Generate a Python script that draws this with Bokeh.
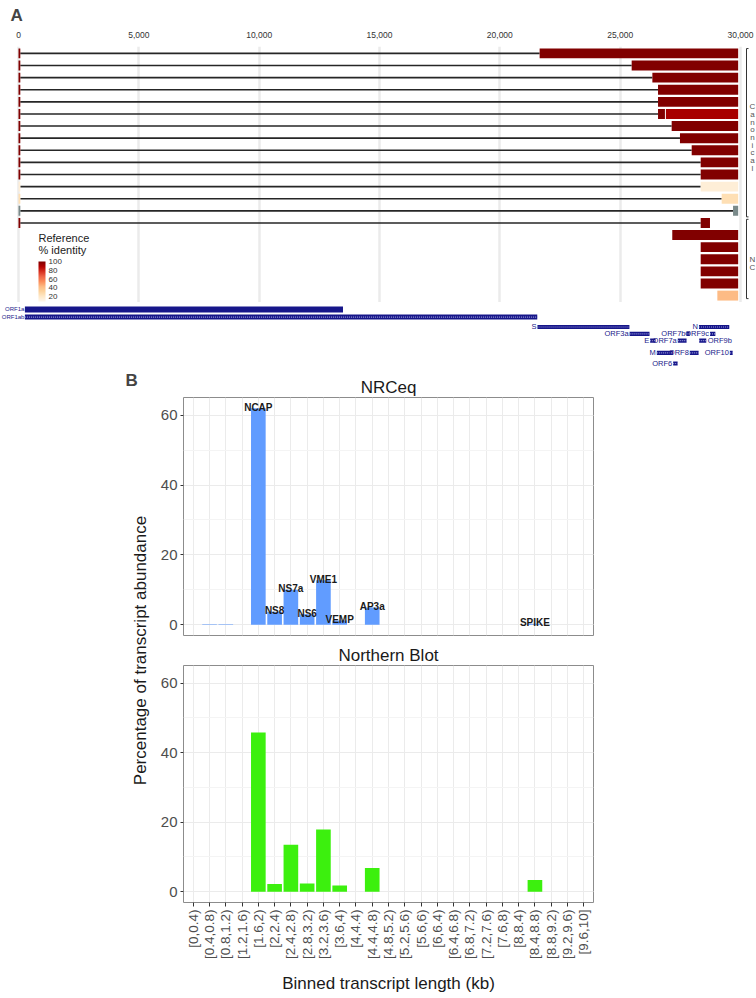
import math
from bokeh.plotting import figure
from bokeh.models import (Range1d, FactorRange, FixedTicker, NumeralTickFormatter,
                          ColumnDataSource, LinearColorMapper, ColorBar, Label,
                          SingleIntervalTicker, AllLabels)
from bokeh.layouts import column, row
from bokeh.core.properties import value
from bokeh.embed import file_html
from bokeh.resources import INLINE
from bokeh.palettes import OrRd9

SANS = "Liberation Sans"
NAN = float("nan")

# ---------------- Panel A data ----------------
genome_ticks = [0, 5000, 10000, 15000, 20000, 25000, 30000]

seg_row = [1, 2, 3, 4, 5, 6, 6, 7, 8, 9, 10, 11, 12, 13, 14, 15, 16, 17, 18, 19, 20, 21]
seg_start = [21654, 25478, 26338, 26573, 26573, 26573, 26900, 27140, 27485, 27972, 28346,
             28346, 28346, 29218, 29690, 28346, 27165, 28346, 28346, 28346, 28346, 29038]
seg_end = [29903, 29903, 29903, 29903, 29903, 26860, 29903, 29903, 29903, 29903, 29903,
           29903, 29903, 29903, 29903, 28732, 29903, 29903, 29903, 29903, 29903, 29903]
seg_identity = [99.5, 99.5, 99.5, 99.5, 99.5, 99.5, 91, 99.5, 99.5, 99.5, 99.5,
                99.5, 16, 26, NAN, 99.5, 99.5, 99.5, 99.5, 99.5, 99.5, 43]

leader_row = list(range(1, 16))
leader_end = [75] * 15
leader_identity = [99.5] * 11 + [16, 26, NAN, 99.5]
junction_end = [21654, 25478, 26338, 26573, 26573, 26573, 27140, 27485, 27972, 28346,
                28346, 28346, 29218, 29690, 28346]

group_label = ["C\na\nn\no\nn\ni\nc\na\nl", "N\nC"]
group_top = [0.6, 14.7]
group_bottom = [14.5, 21.25]

identity_ticks = [20, 40, 60, 80, 100]
legend_title = ["Reference", "% identity"]

gene_name = ["ORF1a", "ORF1ab", "S", "ORF3a", "E", "M", "ORF6", "ORF7a", "ORF7b",
             "ORF8", "N", "ORF9b", "ORF9c", "ORF10"]
gene_start = [266, 266, 21563, 25393, 26245, 26523, 27202, 27394, 27756, 27894, 28274,
              28284, 28734, 29558]
gene_end = [13483, 21555, 25384, 26220, 26472, 27191, 27387, 27759, 27887, 28259, 29533,
            28577, 28955, 29674]
gene_lane = [0, 1, 2.3, 3.2, 4.1, 5.7, 7.1, 4.1, 3.2, 5.7, 2.3, 4.1, 3.2, 5.7]
gene_label_side = ["left"] * 11 + ["right", "left", "left"]

# ---------------- Panel B data ----------------
bins = ["[0,0.4)", "[0.4,0.8)", "[0.8,1.2)", "[1.2,1.6)", "[1.6,2)", "[2,2.4)",
        "[2.4,2.8)", "[2.8,3.2)", "[3.2,3.6)", "[3.6,4)", "[4,4.4)", "[4.4,4.8)",
        "[4.8,5.2)", "[5.2,5.6)", "[5.6,6)", "[6,6.4)", "[6.4,6.8)", "[6.8,7.2)",
        "[7.2,7.6)", "[7.6,8)", "[8,8.4)", "[8.4,8.8)", "[8.8,9.2)", "[9.2,9.6)", "[9.6,10]"]
nrceq_pct = [0, 0.1, 0.1, 0, 62, 3.7, 10, 3, 12.7, 1.2, 0, 4.9, 0, 0, 0, 0, 0, 0, 0, 0,
             0, 0.3, 0, 0, 0]
nrceq_label = ["", "", "", "", "NCAP", "NS8", "NS7a", "NS6", "VME1", "VEMP", "", "AP3a",
               "", "", "", "", "", "", "", "", "", "SPIKE", "", "", ""]
northern_pct = [0, 0, 0, 0, 45.8, 2.2, 13.5, 2.4, 17.9, 1.8, 0, 6.8, 0, 0, 0, 0, 0, 0, 0,
                0, 0, 3.4, 0, 0, 0]
y_ticks_interval = 20


# ---------------- helpers ----------------
def interp_palette(colors, n=256):
    rgb = [tuple(int(c[i:i + 2], 16) for i in (1, 3, 5)) for c in colors]
    out = []
    for k in range(n):
        t = k / (n - 1) * (len(rgb) - 1)
        i = min(int(t), len(rgb) - 2)
        f = t - i
        c = tuple(round(rgb[i][j] + (rgb[i + 1][j] - rgb[i][j]) * f) for j in range(3))
        out.append("#%02x%02x%02x" % c)
    return out


pal = interp_palette(list(OrRd9)[::-1])
mapper = LinearColorMapper(palette=pal, low=9, high=100, nan_color="#7a8a8a")

# ---------------- Panel A: transcripts ----------------
A_W = 756
ppb = 722 / 30000          # pixels per base
xr = Range1d(-18 / ppb, -18 / ppb + A_W / ppb)

pA = figure(width=A_W, height=302, x_range=xr, y_range=Range1d(21.57, 0.43),
            x_axis_location="above", title="A", output_backend="svg",
            toolbar_location=None, min_border_left=0, min_border_right=0,
            min_border_bottom=0, min_border_top=42)
pA.title.text_font = SANS
pA.title.text_font_size = "17px"
pA.title.text_font_style = "bold"
pA.title.offset = 10
pA.title.standoff = 7
pA.yaxis.visible = False
pA.ygrid.visible = False
pA.xaxis.ticker = FixedTicker(ticks=genome_ticks)
pA.xaxis.formatter = NumeralTickFormatter(format="0,0")
pA.xaxis.axis_line_color = None
pA.xaxis.major_tick_line_color = None
pA.xaxis.minor_tick_line_color = None
pA.xaxis.major_label_text_font = SANS
pA.xaxis.major_label_text_font_size = "8.5px"
pA.xaxis.major_label_text_color = "#333333"
pA.xaxis.major_label_standoff = 3
pA.xgrid.grid_line_color = "#ebebeb"
pA.xgrid.grid_line_width = 2.5
pA.outline_line_color = None

junc = ColumnDataSource(dict(row=leader_row, x0=leader_end, x1=junction_end))
pA.segment(x0="x0", y0="row", x1="x1", y1="row", source=junc,
           line_color="#262626", line_width=1.6)

lead = ColumnDataSource(dict(row=leader_row, left=[0] * 15, right=leader_end,
                             identity=leader_identity))
pA.hbar(y="row", left="left", right="right", height=0.82, source=lead,
        fill_color={"field": "identity", "transform": mapper}, line_color=None)

segs = ColumnDataSource(dict(row=seg_row, start=seg_start, end=seg_end,
                             identity=seg_identity))
pA.hbar(y="row", left="start", right="end", height=0.82, source=segs,
        fill_color={"field": "identity", "transform": mapper}, line_color=None)

brx = 30000 + 6 / ppb
grp = ColumnDataSource(dict(top=group_top, bottom=group_bottom, label=group_label,
                            mid=[(a + b) / 2 + 0.4 for a, b in zip(group_top, group_bottom)],
                            x=[brx] * 2, xt=[brx + 2 / ppb] * 2,
                            xl=[brx + 6 / ppb] * 2))
pA.segment(x0="x", y0="top", x1="x", y1="bottom", source=grp, line_color="#333333",
           line_width=1)
pA.segment(x0="x", y0="top", x1="xt", y1="top", source=grp, line_color="#333333",
           line_width=1)
pA.segment(x0="x", y0="bottom", x1="xt", y1="bottom", source=grp, line_color="#333333",
           line_width=1)
pA.text(x="xl", y="mid", text="label", source=grp, text_font=value(SANS),
        text_font_size="8px", text_color="#555555", text_align="center",
        text_baseline="middle", text_line_height=0.85)

cb = ColorBar(color_mapper=mapper, ticker=FixedTicker(ticks=identity_ticks),
              width=7, height=40, location=(38, 1), padding=0,
              major_label_text_font=SANS, major_label_text_font_size="8px",
              major_label_text_color="#333333", label_standoff=3,
              major_label_policy=AllLabels(),
              major_tick_line_color=None, bar_line_color=None,
              border_line_color=None, background_fill_alpha=0)
pA.add_layout(cb, "center")
for txt, yrow in zip(legend_title, [16.28, 17.26]):
    pA.add_layout(Label(x=20 / ppb, y=yrow, text=txt, text_font=SANS,
                        text_font_size="11px", text_color="#222222",
                        text_baseline="middle", text_align="left"))

# ---------------- Panel A: gene track ----------------
pG = figure(width=A_W, height=66, x_range=xr, y_range=Range1d(7.76, -0.92),
            output_backend="svg", toolbar_location=None, min_border_left=0,
            min_border_right=0, min_border_bottom=0, min_border_top=0)
pG.axis.visible = False
pG.grid.visible = False
pG.outline_line_color = None
long_orf = ("ORF1a", "ORF1ab")
gheight = [0.8 if n == "ORF1a" else (0.66 if n == "ORF1ab" else 0.55) for n in gene_name]
gsrc = ColumnDataSource(dict(name=gene_name, start=gene_start, end=gene_end,
                             lane=gene_lane, h=gheight,
                             lx=[s if side == "left" else e for s, e, side in
                                 zip(gene_start, gene_end, gene_label_side)],
                             align=["right" if side == "left" else "left"
                                    for side in gene_label_side],
                             off=[-0.5 if n in long_orf else
                                  (-1 if side == "left" else 1.5)
                                  for n, side in zip(gene_name, gene_label_side)],
                             fs=["6px" if n in long_orf else "7.5px" for n in gene_name]))
pG.hbar(y="lane", left="start", right="end", height="h", source=gsrc,
        fill_color="#16168a", line_color=None)
pat = ColumnDataSource(dict(start=gene_start[1:], end=gene_end[1:], lane=gene_lane[1:]))
pG.segment(x0="start", y0="lane", x1="end", y1="lane", source=pat,
           line_color="#9a9ad8", line_width=1.2, line_dash="1 1")
pG.text(x="lx", y="lane", text="name", source=gsrc, x_offset="off",
        text_align="align", text_baseline="middle", text_font=value(SANS),
        text_font_size="fs", text_color="#1a1a8a")

# ---------------- Panel B ----------------
xrB = FactorRange(factors=bins, range_padding=0.1, range_padding_units="absolute")
yrB = Range1d(-3.1, 65.1)


def style_b(p):
    p.outline_line_color = "#8c8c8c"
    p.outline_line_width = 1
    p.xgrid.grid_line_color = "#ebebeb"
    p.ygrid.grid_line_color = "#ebebeb"
    p.ygrid.minor_grid_line_color = "#f4f4f4"
    p.yaxis.ticker = SingleIntervalTicker(interval=y_ticks_interval, num_minor_ticks=2)
    p.yaxis.axis_line_color = None
    p.yaxis.minor_tick_line_color = None
    p.yaxis.major_tick_line_color = "#333333"
    p.yaxis.major_tick_out = 3
    p.yaxis.major_tick_in = 0
    p.yaxis.major_label_text_font = SANS
    p.yaxis.major_label_text_font_size = "15px"
    p.yaxis.major_label_text_color = "#4d4d4d"
    p.yaxis.major_label_standoff = 2
    p.title.align = "center"
    p.title.text_font = SANS
    p.title.text_font_size = "17px"
    p.title.text_font_style = "normal"
    p.title.text_color = "#1a1a1a"
    p.title.standoff = 2


pB1 = figure(width=450, height=272, x_range=xrB, y_range=yrB, title="NRCeq",
             output_backend="svg", toolbar_location=None, min_border_left=33,
             min_border_right=7, min_border_top=29, min_border_bottom=5)
style_b(pB1)
pB1.xaxis.visible = False
srcN = ColumnDataSource(dict(bin=bins, pct=nrceq_pct, label=nrceq_label))
pB1.vbar(x="bin", top="pct", width=0.9, source=srcN, fill_color="#619CFF",
         line_color=None)
pB1.text(x="bin", y="pct", text="label", source=srcN, text_align="center",
         text_baseline="alphabetic", y_offset=-1, text_font=value(SANS),
         text_font_style="bold", text_font_size="10px", text_color="#1a1a1a")

pB2 = figure(width=450, height=357, x_range=xrB, y_range=yrB, title="Northern Blot",
             output_backend="svg", toolbar_location=None, min_border_left=33,
             min_border_right=7, min_border_top=25, min_border_bottom=95)
style_b(pB2)
srcB = ColumnDataSource(dict(bin=bins, pct=northern_pct))
pB2.vbar(x="bin", top="pct", width=0.9, source=srcB, fill_color="#3CF00E",
         line_color=None)
pB2.xaxis.axis_line_color = None
pB2.xaxis.major_tick_line_color = "#333333"
pB2.xaxis.major_tick_out = 4
pB2.xaxis.major_tick_in = 0
pB2.xaxis.major_label_orientation = math.pi / 2
pB2.xaxis.major_label_text_font = SANS
pB2.xaxis.major_label_text_font_size = "13.5px"
pB2.xaxis.major_label_text_color = "#4d4d4d"
pB2.xaxis.major_label_standoff = 3
pB2.xaxis.axis_label = "Binned transcript length (kb)"
pB2.xaxis.axis_label_text_font = SANS
pB2.xaxis.axis_label_text_font_size = "17px"
pB2.xaxis.axis_label_text_font_style = "normal"
pB2.xaxis.axis_label_text_color = "#1a1a1a"
pB2.xaxis.axis_label_standoff = 12

pL = figure(width=150, height=629, x_range=Range1d(0, 150), y_range=Range1d(629, 0),
            output_backend="svg", toolbar_location=None, min_border_left=0,
            min_border_right=0, min_border_bottom=0, min_border_top=0)
pL.axis.visible = False
pL.grid.visible = False
pL.outline_line_color = None
pL.add_layout(Label(x=125, y=2, text="B", text_font=SANS, text_font_size="17px",
                    text_font_style="bold", text_baseline="top", text_align="left"))
pL.add_layout(Label(x=140, y=282, text="Percentage of transcript abundance",
                    angle=math.pi / 2, text_font=SANS, text_font_size="17px",
                    text_color="#1a1a1a", text_align="center", text_baseline="middle"))

layout = column(pA, pG, row(pL, column(pB1, pB2)))
open("out.html", "w").write(file_html(layout, INLINE))
